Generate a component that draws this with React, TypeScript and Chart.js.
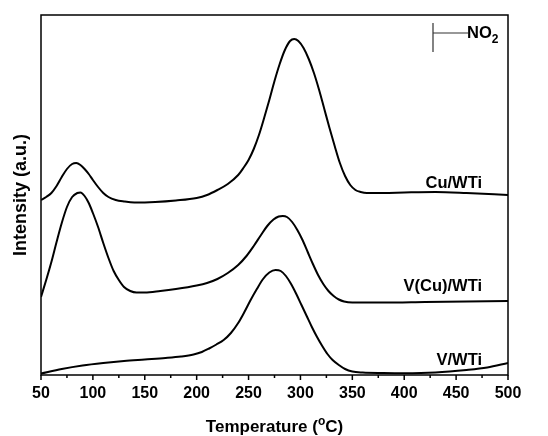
import React, { useEffect, useRef } from "react";
import { Chart, registerables } from "chart.js";

Chart.register(...registerables);

// Temperature axis tick values (°C)
const xTicks = [50, 100, 150, 200, 250, 300, 350, 400, 450, 500];
const xMinorTicks = [75, 125, 175, 225, 275, 325, 375, 425, 475];

// Cu/WTi
const cuTemp = [50, 55, 60, 65, 70, 75, 80, 84, 88, 92, 96, 100, 105, 110, 115, 122, 130, 140, 160, 180, 200, 210, 220, 230, 240, 245, 250, 255, 260, 265, 270, 275, 280, 285, 290, 294, 298, 303, 308, 313, 318, 323, 328, 333, 338, 343, 348, 353, 358, 364, 380, 400, 430, 460, 500];
const cuInt = [175, 178, 182, 189, 198, 206, 211, 212, 210, 206, 201, 195, 188, 182, 178, 175, 173.5, 172.5, 173, 174.5, 177, 180, 185, 191, 200, 207, 215, 226, 240, 257, 275, 294, 311, 325, 334, 336, 334, 327, 316, 302, 285, 266, 247, 229, 212, 199, 190, 185, 183, 182, 182, 182.5, 183, 182, 180];

// V(Cu)/WTi
const vcuTemp = [50, 55, 60, 65, 70, 75, 80, 85, 88, 92, 96, 100, 105, 110, 115, 120, 125, 130, 136, 142, 150, 165, 180, 200, 210, 220, 230, 240, 248, 255, 262, 268, 274, 279, 283, 287, 292, 297, 302, 307, 312, 317, 322, 327, 332, 337, 342, 350, 380, 420, 460, 500];
const vcuInt = [78, 95, 113, 133, 152, 168, 178, 182, 182.5, 179, 172, 162, 148, 132, 117, 104, 95, 88, 84, 82.5, 82.5, 84, 86, 89.5, 92, 96, 102, 110, 119, 129, 140, 149, 155.5, 158.5, 159, 158, 153, 145, 135, 123, 111, 100, 91, 84, 79, 75.5, 73.5, 72.5, 72.5, 73, 73.5, 74];

// V/WTi
const vTemp = [50, 70, 90, 110, 130, 150, 170, 185, 197, 205, 212, 219, 226, 233, 240, 246, 252, 258, 264, 270, 276, 281, 286, 291, 296, 301, 306, 311, 316, 321, 326, 331, 337, 343, 350, 360, 380, 400, 430, 460, 480, 500];
const vInt = [1.5, 6, 9.5, 12, 14, 15.5, 17, 18.5, 20.5, 23, 26.5, 30.5, 35, 42, 52, 63, 75, 86, 96, 102.5, 105, 104, 99, 91, 81, 70, 59, 48, 38, 29, 21, 15, 10, 6, 3.5, 2.5, 2, 1.8, 2.5, 5, 7.5, 12];

const seriesNames = ["Cu/WTi", "V(Cu)/WTi", "V/WTi"];

const FONT = '"Liberation Sans", Arial, sans-serif';

const toPoints = (xs: number[], ys: number[]) => xs.map((x, i) => ({ x, y: ys[i] }));

const decor = {
  id: "decor",
  afterDraw(chart: any) {
    const ctx = chart.ctx as CanvasRenderingContext2D;
    const { left, right, top, bottom } = chart.chartArea;
    const xs = chart.scales.x;
    ctx.save();
    ctx.strokeStyle = "#000";
    ctx.fillStyle = "#000";
    ctx.lineWidth = 1.5;
    ctx.strokeRect(left, top, right - left, bottom - top);

    // ticks
    ctx.beginPath();
    xTicks.forEach((t) => {
      const px = xs.getPixelForValue(t);
      ctx.moveTo(px, bottom);
      ctx.lineTo(px, bottom + 5);
    });
    xMinorTicks.forEach((t) => {
      const px = xs.getPixelForValue(t);
      ctx.moveTo(px, bottom);
      ctx.lineTo(px, bottom + 3);
    });
    ctx.stroke();

    // tick labels
    ctx.font = `bold 16px ${FONT}`;
    ctx.textAlign = "center";
    ctx.textBaseline = "middle";
    xTicks.forEach((t) => {
      ctx.fillText(String(t), xs.getPixelForValue(t), bottom + 19);
    });

    // x title with superscript
    const cx = (left + right) / 2;
    const p1 = "Temperature (";
    const p2 = "o";
    const p3 = "C)";
    ctx.font = `bold 17px ${FONT}`;
    const w1 = ctx.measureText(p1).width;
    const w3 = ctx.measureText(p3).width;
    ctx.font = `bold 12px ${FONT}`;
    const w2 = ctx.measureText(p2).width;
    const total = w1 + w2 + w3;
    let sx = cx - total / 2;
    const base = 432;
    ctx.textAlign = "left";
    ctx.textBaseline = "alphabetic";
    ctx.font = `bold 17px ${FONT}`;
    ctx.fillText(p1, sx, base);
    sx += w1;
    ctx.font = `bold 12px ${FONT}`;
    ctx.fillText(p2, sx, base - 7);
    sx += w2;
    ctx.font = `bold 17px ${FONT}`;
    ctx.fillText(p3, sx, base);

    // y title
    ctx.save();
    ctx.translate(21, 195);
    ctx.rotate(-Math.PI / 2);
    ctx.textAlign = "center";
    ctx.textBaseline = "middle";
    ctx.font = `bold 18px ${FONT}`;
    ctx.fillText("Intensity (a.u.)", 0, 0);
    ctx.restore();

    // series labels
    ctx.font = `bold 16.5px ${FONT}`;
    ctx.textAlign = "right";
    ctx.textBaseline = "middle";
    ctx.fillText(seriesNames[0], 482, 183);
    ctx.fillText(seriesNames[1], 482, 286);
    ctx.fillText(seriesNames[2], 482, 360);

    // NO2 scale bar
    ctx.lineWidth = 1.2;
    ctx.strokeStyle = "#333";
    ctx.beginPath();
    ctx.moveTo(433, 23);
    ctx.lineTo(433, 52);
    ctx.moveTo(433, 33);
    ctx.lineTo(468, 33);
    ctx.stroke();
    ctx.textAlign = "left";
    ctx.textBaseline = "middle";
    ctx.font = `bold 16.5px ${FONT}`;
    ctx.fillText("NO", 467, 33);
    const wNO = ctx.measureText("NO").width;
    ctx.font = `bold 12px ${FONT}`;
    ctx.fillText("2", 467 + wNO, 40);
    ctx.restore();
  },
};

export default function App() {
  const ref = useRef<HTMLCanvasElement>(null);
  useEffect(() => {
    if (!ref.current) return;
    const mk = (label: string, xs: number[], ys: number[]) => ({
      label,
      data: toPoints(xs, ys),
      borderColor: "#000",
      backgroundColor: "#000",
      borderWidth: 2,
      pointRadius: 0,
      fill: false,
      tension: 0.4,
      cubicInterpolationMode: "monotone" as const,
    });
    const chart = new Chart(ref.current, {
      type: "line",
      data: {
        datasets: [
          mk(seriesNames[0], cuTemp, cuInt),
          mk(seriesNames[1], vcuTemp, vcuInt),
          mk(seriesNames[2], vTemp, vInt),
        ],
      },
      options: {
        responsive: false,
        animation: false,
        layout: { padding: { left: 41, right: 40, top: 15, bottom: 61 } },
        scales: {
          x: { type: "linear", min: 50, max: 500, display: false },
          y: { type: "linear", min: 0, max: 360, display: false },
        },
        plugins: { legend: { display: false }, tooltip: { enabled: false } },
      },
      plugins: [decor],
    });
    return () => chart.destroy();
  }, []);
  return (
    <div style={{ position: "fixed", left: 0, top: 0, width: 548, height: 436, background: "#fff" }}>
      <canvas ref={ref} width={548} height={436} style={{ width: 548, height: 436, display: "block" }} />
    </div>
  );
}
